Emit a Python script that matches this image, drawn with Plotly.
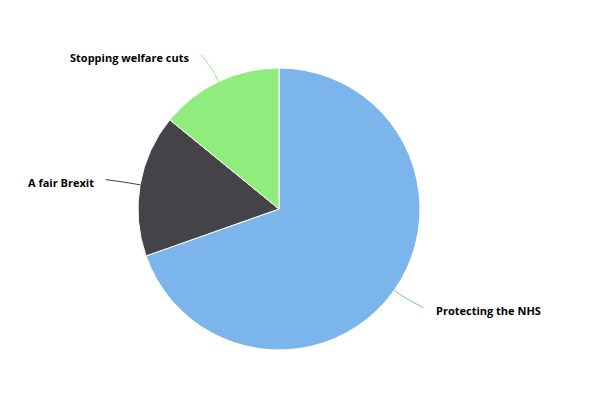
import math
import plotly.graph_objects as go

categories = ["Protecting the NHS", "A fair Brexit", "Stopping welfare cuts"]
values = [69.6, 16.3, 14.1]
colors = ["#7cb5ec", "#434348", "#90ed7d"]

W, H = 591, 411
PAGE_OFF = 8  # page body margin
CX, CY, R = 279, 209, 141
DIST = 30

def px(x):
    return (x - PAGE_OFF) / W

def py(y):
    return 1 - (y - PAGE_OFF) / H

fig = go.Figure()
fig.add_trace(go.Pie(
    labels=categories, values=values, sort=False, direction="clockwise",
    rotation=0, textinfo="none", hoverinfo="label+percent",
    marker=dict(colors=colors, line=dict(color="#ffffff", width=1)),
    domain=dict(x=[px(CX - R), px(CX + R)], y=[py(CY + R), py(CY - R)]),
    showlegend=False,
))

total = sum(values)
cum = 0
shapes = []
annotations = []
for lab, v, c in zip(categories, values, colors):
    mid = (cum + v / 2) / total * 2 * math.pi
    cum += v
    ux, uy = math.sin(mid), -math.cos(mid)
    ex, ey = CX + R * ux, CY + R * uy
    lx, ly = CX + (R + DIST) * ux, CY + (R + DIST) * uy
    side = 1 if ux >= 0 else -1
    cx_end = lx + 5 * side
    qx, qy = CX + (R + DIST * 0.6) * ux, CY + (R + DIST * 0.6) * uy
    path = "M {:.4f},{:.4f} Q {:.4f},{:.4f} {:.4f},{:.4f}".format(
        px(ex), py(ey), px(qx), py(qy), px(cx_end), py(ly))
    shapes.append(dict(type="path", xref="paper", yref="paper", path=path,
                       line=dict(color=c, width=1)))
    annotations.append(dict(
        x=px(lx + 15 * side), y=py(ly + 2.5), xref="paper", yref="paper",
        text="<b>" + lab + "</b>", showarrow=False,
        xanchor="left" if side > 0 else "right", yanchor="middle",
        font=dict(family="Open Sans", size=11, color="#000000"),
    ))

fig.update_layout(
    width=W, height=H,
    margin=dict(l=0, r=0, t=0, b=0),
    paper_bgcolor="#ffffff", plot_bgcolor="#ffffff",
    shapes=shapes, annotations=annotations,
)

fig.write_html("out.html")
